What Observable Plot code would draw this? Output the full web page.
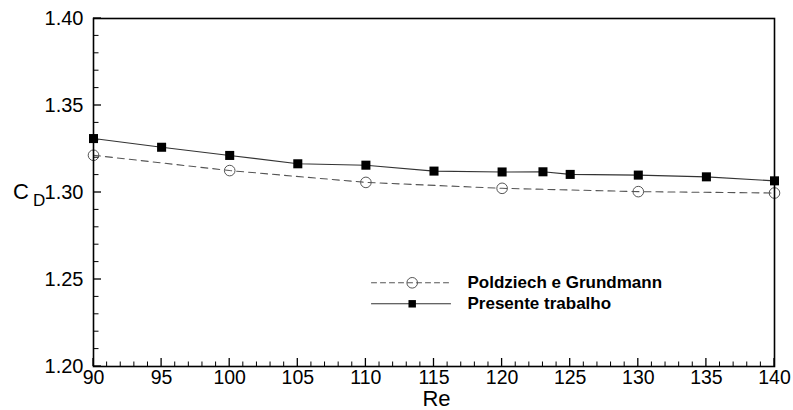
<!DOCTYPE html>
<html>
<head>
<meta charset="utf-8">
<script src="https://cdn.jsdelivr.net/npm/d3@7"></script>
<script src="https://cdn.jsdelivr.net/npm/@observablehq/plot@0.6"></script>
<style>
  html, body { margin: 0; padding: 0; background: #fff; }
  #chart { width: 793px; height: 410px; }
</style>
</head>
<body>
<div id="chart"></div>
<script>
// Data
const represent = [90, 95, 100, 105, 110, 115, 120, 123, 125, 130, 135, 140];
const cdPresent = [1.3310, 1.3260, 1.3213, 1.3165, 1.3157, 1.3123, 1.3118, 1.3119, 1.3104, 1.3100, 1.3090, 1.3067];
const rePoldz = [90, 100, 110, 120, 130, 140];
const cdPoldz = [1.3214, 1.3126, 1.3058, 1.3024, 1.3005, 1.2997];
const xTicks = [90, 95, 100, 105, 110, 115, 120, 125, 130, 135, 140];
const yTicks = [1.20, 1.25, 1.30, 1.35, 1.40];
const xMinorTicks = d3.range(91, 140).filter(v => v % 5 !== 0);
const yMinorTicks = d3.range(121, 140).filter(v => v % 5 !== 0).map(v => v / 100);
const seriesNames = ["Poldziech e Grundmann", "Presente trabalho"];

const present = represent.map((re, i) => ({re, cd: cdPresent[i]}));
const poldz = rePoldz.map((re, i) => ({re, cd: cdPoldz[i]}));

const lineShape = {draw(context, l) { context.moveTo(0, 0); context.lineTo(0, -l); }};
const font = "'Liberation Sans', Arial, Helvetica, sans-serif";

const chart = Plot.plot({
  width: 793,
  height: 410,
  marginLeft: 93,
  marginRight: 19,
  marginTop: 18,
  marginBottom: 44,
  style: {fontFamily: font, color: "#000", background: "#fff", overflow: "visible"},
  x: {domain: [90, 140], ticks: xTicks},
  y: {domain: [1.20, 1.40], ticks: yTicks},
  marks: [
    // axis tick labels
    Plot.axisX({ticks: xTicks, tickSize: 0, tickPadding: 4, fontSize: 19.5, label: null, tickFormat: d => String(d)}),
    Plot.axisY({ticks: yTicks, tickSize: 0, tickPadding: 10, fontSize: 20, label: null, tickFormat: d3.format(".2f")}),
    // series
    Plot.line(poldz, {x: "re", y: "cd", stroke: "#555", strokeWidth: 1.1, strokeDasharray: "7,5"}),
    Plot.dot(poldz, {x: "re", y: "cd", r: 5.3, stroke: "#555", strokeWidth: 1, fill: "none"}),
    Plot.line(present, {x: "re", y: "cd", stroke: "#333", strokeWidth: 1.1}),
    Plot.dot(present, {x: "re", y: "cd", symbol: "square", r: 5.1, fill: "#000", stroke: "none"}),
    // frame
    Plot.frame({stroke: "#000", strokeWidth: 1.6}),
    // legend
    Plot.vector([0], {frameAnchor: "top-left", dx: 278, dy: 264.3, rotate: 90, length: 79, anchor: "start", shape: lineShape, stroke: "#555", strokeWidth: 1.1, strokeDasharray: "5,4"}),
    Plot.dot([0], {frameAnchor: "top-left", dx: 318.7, dy: 264.3, r: 5.3, stroke: "#555", strokeWidth: 1, fill: "none"}),
    Plot.vector([0], {frameAnchor: "top-left", dx: 278, dy: 285.3, rotate: 90, length: 79, anchor: "start", shape: lineShape, stroke: "#333", strokeWidth: 1.1}),
    Plot.dot([0], {frameAnchor: "top-left", dx: 318.7, dy: 285.3, symbol: "square", r: 4.2, fill: "#000", stroke: "none"}),
    Plot.text([seriesNames[0]], {text: d => d, frameAnchor: "top-left", dx: 374, dy: 269.3, textAnchor: "start", lineAnchor: "bottom", fontSize: 17, fontWeight: "bold", fill: "#000"}),
    Plot.text([seriesNames[1]], {text: d => d, frameAnchor: "top-left", dx: 374, dy: 290.5, textAnchor: "start", lineAnchor: "bottom", fontSize: 17, fontWeight: "bold", fill: "#000"}),
    // axis titles
    Plot.text(["Re"], {text: d => d, frameAnchor: "bottom", dx: 2.5, dy: 39, lineAnchor: "bottom", fontSize: 22, fill: "#000"}),
    Plot.text(["C"], {text: d => d, frameAnchor: "left", dx: -80.5, dy: 6.3, textAnchor: "start", lineAnchor: "bottom", fontSize: 22, fill: "#000"}),
    Plot.text(["D"], {text: d => d, frameAnchor: "left", dx: -60.5, dy: 13, textAnchor: "start", lineAnchor: "bottom", fontSize: 17, fill: "#000"})
  ]
});
document.getElementById("chart").appendChild(chart);

// Inward ticks, positioned through the chart's own scales
const xs = chart.scale("x"), ys = chart.scale("y");
const svg = d3.select(chart);
const x0 = xs.apply(90), yb = ys.apply(1.20);
const g = svg.append("g").attr("stroke", "#000");
g.selectAll(null).data(xTicks).join("line")
  .attr("x1", d => xs.apply(d)).attr("x2", d => xs.apply(d))
  .attr("y1", yb).attr("y2", yb - 8).attr("stroke-width", 1.3);
g.selectAll(null).data(xMinorTicks).join("line")
  .attr("x1", d => xs.apply(d)).attr("x2", d => xs.apply(d))
  .attr("y1", yb).attr("y2", yb - 4.5).attr("stroke-width", 1);
g.selectAll(null).data(yTicks).join("line")
  .attr("y1", d => ys.apply(d)).attr("y2", d => ys.apply(d))
  .attr("x1", x0).attr("x2", x0 + 8).attr("stroke-width", 1.3);
g.selectAll(null).data(yMinorTicks).join("line")
  .attr("y1", d => ys.apply(d)).attr("y2", d => ys.apply(d))
  .attr("x1", x0).attr("x2", x0 + 5.5).attr("stroke-width", 1);
</script>
</body>
</html>
